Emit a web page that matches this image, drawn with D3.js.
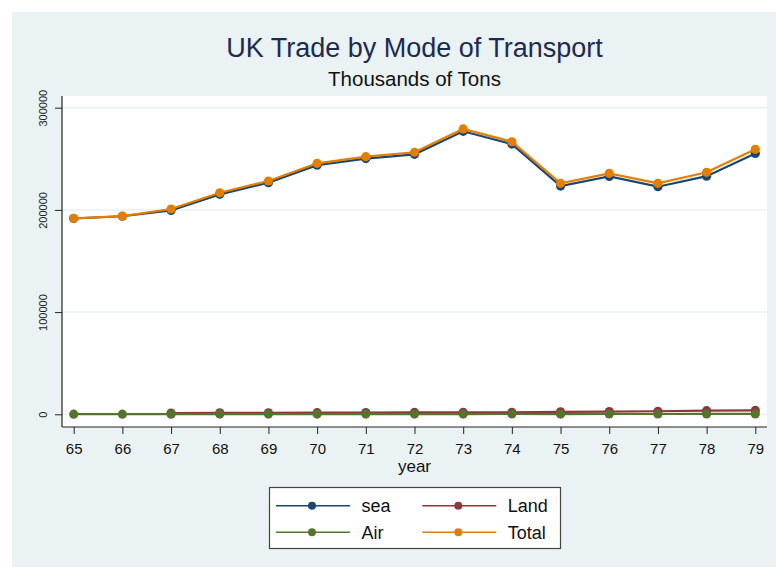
<!DOCTYPE html>
<html>
<head>
<meta charset="utf-8">
<script src="https://cdn.jsdelivr.net/npm/d3@7"></script>
<style>
  body { margin: 0; background: #ffffff; }
  text { font-family: "Liberation Sans", Arial, sans-serif; }
</style>
</head>
<body>
<div id="chart"></div>
<script>
// data (thousands of tons)
var years = [65, 66, 67, 68, 69, 70, 71, 72, 73, 74, 75, 76, 77, 78, 79];
var sea   = [191600, 193800, 199500, 215200, 226600, 243800, 250200, 254400, 276900, 264400, 223300, 232800, 222700, 233000, 255200];
var land  = [null, null, 1200, 1400, 1500, 1600, 1700, 1800, 2000, 2000, 2400, 2700, 3000, 3500, 3800];
var air   = [150, 160, 170, 190, 200, 210, 220, 240, 260, 270, 260, 280, 300, 320, 340];
var total = [191800, 194000, 200900, 216800, 228300, 245600, 252100, 256400, 279200, 266700, 226000, 235800, 226000, 236800, 259300];
var yTicks = [0, 100000, 200000, 300000];

var series = [
  { name: "sea",   values: sea,   color: "#1a476f" },
  { name: "Land",  values: land,  color: "#90353b" },
  { name: "Air",   values: air,   color: "#55752f" },
  { name: "Total", values: total, color: "#e37e00" }
];

var W = 776, H = 568;

var svg = d3.select("#chart")
  .append("svg")
  .attr("width", W)
  .attr("height", H);

// background panel
svg.append("rect")
  .attr("x", 12).attr("y", 12)
  .attr("width", W - 12).attr("height", H - 13)
  .attr("fill", "#eaf2f3");

// plot region
var plot = { left: 62, top: 96, right: 767, bottom: 427 };
svg.append("rect")
  .attr("x", plot.left).attr("y", plot.top)
  .attr("width", plot.right - plot.left)
  .attr("height", plot.bottom - plot.top)
  .attr("fill", "#ffffff");

var x = d3.scaleLinear().domain([65, 79]).range([73.7, 755.3]);
var y = d3.scaleLinear().domain([0, 300000]).range([414.3, 107.7]);

// grid lines
svg.selectAll(".grid")
  .data(yTicks)
  .enter()
  .append("line")
  .attr("x1", plot.left).attr("x2", plot.right)
  .attr("y1", d => y(d)).attr("y2", d => y(d))
  .attr("stroke", "#eaf2f3")
  .attr("stroke-width", 1.5);

// y axis
var yAxis = svg.append("g")
  .attr("transform", "translate(" + plot.left + ",0)")
  .call(d3.axisLeft(y).tickValues(yTicks).tickSize(7).tickPadding(10).tickFormat(d3.format("d")));
yAxis.select(".domain").remove();
yAxis.selectAll(".tick line").attr("stroke", "#222");
yAxis.selectAll(".tick text")
  .attr("font-size", "11px")
  .attr("fill", "#222")
  .attr("text-anchor", "middle")
  .attr("x", 0).attr("dy", 0)
  .attr("transform", "translate(-19,0) rotate(-90)")
  .attr("y", 4);
svg.append("line")
  .attr("x1", plot.left).attr("x2", plot.left)
  .attr("y1", plot.top).attr("y2", plot.bottom)
  .attr("stroke", "#222").attr("stroke-width", 1.2);

// x axis
var xAxis = svg.append("g")
  .attr("transform", "translate(0," + plot.bottom + ")")
  .call(d3.axisBottom(x).tickValues(years).tickSize(7).tickPadding(9).tickFormat(d3.format("d")));
xAxis.select(".domain").remove();
xAxis.selectAll(".tick line").attr("stroke", "#222");
xAxis.selectAll(".tick text")
  .attr("font-size", "15px")
  .attr("fill", "#111");
svg.append("line")
  .attr("x1", plot.left).attr("x2", plot.right)
  .attr("y1", plot.bottom).attr("y2", plot.bottom)
  .attr("stroke", "#222").attr("stroke-width", 1.2);

svg.append("text")
  .attr("x", (plot.left + plot.right) / 2)
  .attr("y", 472)
  .attr("text-anchor", "middle")
  .attr("font-size", "17px")
  .attr("fill", "#111")
  .text("year");

// titles
svg.append("text")
  .attr("x", 414.5).attr("y", 56.7)
  .attr("text-anchor", "middle")
  .attr("font-size", "27px")
  .attr("fill", "#1c2b4e")
  .text("UK Trade by Mode of Transport");
svg.append("text")
  .attr("x", 414.5).attr("y", 86)
  .attr("text-anchor", "middle")
  .attr("font-size", "20.5px")
  .attr("fill", "#111")
  .text("Thousands of Tons");

// lines and markers
var line = d3.line()
  .defined(d => d[1] != null)
  .x(d => x(d[0]))
  .y(d => y(d[1]));

series.forEach(function (s) {
  var pts = years.map((yr, i) => [yr, s.values[i]]);
  svg.append("path")
    .datum(pts)
    .attr("d", line)
    .attr("fill", "none")
    .attr("stroke", s.color)
    .attr("stroke-width", 2.2);
  svg.selectAll(".dot-" + s.name)
    .data(pts.filter(d => d[1] != null))
    .enter()
    .append("circle")
    .attr("cx", d => x(d[0]))
    .attr("cy", d => y(d[1]))
    .attr("r", 4.6)
    .attr("fill", s.color);
});

// legend
var lg = svg.append("g");
lg.append("rect")
  .attr("x", 269.5).attr("y", 487.5)
  .attr("width", 291).attr("height", 61)
  .attr("fill", "#ffffff")
  .attr("stroke", "#444")
  .attr("stroke-width", 1.2);

var legendPos = [
  { x: 276, y: 505.7 },
  { x: 422.3, y: 505.7 },
  { x: 276, y: 532.3 },
  { x: 422.3, y: 532.3 }
];
series.forEach(function (s, i) {
  var p = legendPos[i];
  lg.append("line")
    .attr("x1", p.x).attr("x2", p.x + 74)
    .attr("y1", p.y).attr("y2", p.y)
    .attr("stroke", s.color).attr("stroke-width", 1.6);
  lg.append("circle")
    .attr("cx", p.x + 36).attr("cy", p.y)
    .attr("r", 4)
    .attr("fill", s.color);
  lg.append("text")
    .attr("x", p.x + 85.5).attr("y", p.y + 6.5)
    .attr("font-size", "18px")
    .attr("fill", "#111")
    .text(s.name);
});
</script>
</body>
</html>
